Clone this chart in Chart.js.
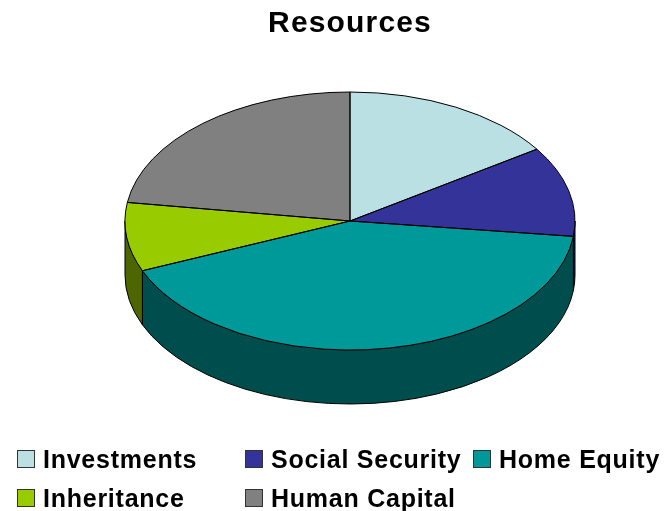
<!DOCTYPE html>
<html>
<head>
<meta charset="utf-8">
<title>Resources</title>
<script src="https://cdn.jsdelivr.net/npm/chart.js@4"></script>
<style>
  html, body { margin: 0; padding: 0; background: #fff; }
  #wrap { position: relative; width: 667px; height: 511px; overflow: hidden; }
  #pie { display: block; }
  .key {
    position: absolute;
    display: flex;
    align-items: center;
    font: bold 25px "Liberation Sans", Arial, sans-serif;
    letter-spacing: 0.75px;
    color: #000;
    white-space: nowrap;
    line-height: 30px;
  }
  .key i {
    display: block;
    box-sizing: border-box;
    width: 18px;
    height: 18px;
    margin-right: 8px;
    border: 1px solid #333;
  }
</style>
</head>
<body>
<div id="wrap">
  <canvas id="pie" width="667" height="511"></canvas>
</div>
<script>
const categories = ["Investments", "Social Security", "Home Equity", "Inheritance", "Human Capital"];
const shares = [15.6, 11.3, 41.8, 8.6, 22.7];
const topColors = ["#BBE0E3", "#333399", "#009999", "#99CC00", "#808080"];
const sideColors = ["#5E7072", "#1A1A4D", "#004D4D", "#4D6600", "#404040"];

// Ellipse of the top face and height of the rim, in pixels
const centerY = 221;
const radiusY = 129;
const rimDepth = 54;

const keyColumns = [17, 245, 473];
const keyRows = [444, 483];

// Squash the round pie into the tilted top face
function applyTilt(ctx, arc) {
  ctx.translate(arc.x, centerY);
  ctx.scale(1, radiusY / arc.outerRadius);
  ctx.translate(-arc.x, -arc.y);
}

// Outer wall of one slice, only the part facing the viewer
function drawRim(ctx, arc, color) {
  const from = Math.max(arc.startAngle, 0);
  const to = Math.min(arc.endAngle, Math.PI);
  if (from >= to) return;

  const r = arc.outerRadius;
  ctx.beginPath();
  ctx.ellipse(arc.x, centerY, r, radiusY, 0, from, to);
  ctx.ellipse(arc.x, centerY + rimDepth, r, radiusY, 0, to, from, true);
  ctx.closePath();
  ctx.fillStyle = color;
  ctx.fill();
  ctx.stroke();
}

const tiltedPie = {
  id: "tiltedPie",
  beforeDraw(chart) {
    chart.ctx.letterSpacing = "1.15px";
  },
  beforeDatasetsDraw(chart) {
    const ctx = chart.ctx;
    ctx.letterSpacing = "0px";
    ctx.save();
    ctx.lineWidth = 1;
    ctx.strokeStyle = "#000";
    chart.getDatasetMeta(0).data.forEach((arc, i) => drawRim(ctx, arc, sideColors[i]));
    ctx.restore();
  },
  beforeDatasetDraw(chart) {
    chart.ctx.save();
    applyTilt(chart.ctx, chart.getDatasetMeta(0).data[0]);
  },
  afterDatasetDraw(chart) {
    const ctx = chart.ctx;
    ctx.restore();

    // Outlines go on after the transform so the line keeps an even width
    ctx.save();
    ctx.lineWidth = 1;
    ctx.strokeStyle = "#000";
    chart.getDatasetMeta(0).data.forEach((arc) => {
      ctx.save();
      applyTilt(ctx, arc);
      ctx.beginPath();
      ctx.moveTo(arc.x, arc.y);
      ctx.arc(arc.x, arc.y, arc.outerRadius, arc.startAngle, arc.endAngle);
      ctx.closePath();
      ctx.restore();
      ctx.stroke();
    });
    ctx.restore();
  },
};

new Chart(document.getElementById("pie"), {
  type: "pie",
  data: {
    labels: categories,
    datasets: [
      {
        data: shares,
        backgroundColor: topColors,
        borderWidth: 0,
        clip: false,
      },
    ],
  },
  options: {
    responsive: false,
    animation: false,
    layout: { padding: { left: 125, right: 92, top: 0, bottom: 0 } },
    plugins: {
      legend: { display: false },
      tooltip: { enabled: false },
      title: {
        display: true,
        text: "Resources",
        color: "#000",
        font: { family: '"Liberation Sans", Arial, sans-serif', size: 30, weight: "bold" },
        padding: { top: 6, bottom: 6 },
      },
    },
  },
  plugins: [tiltedPie],
});

// Legend keeps its items in fixed columns
const wrap = document.getElementById("wrap");
categories.forEach((name, i) => {
  const key = document.createElement("div");
  key.className = "key";
  key.style.left = keyColumns[i % 3] + "px";
  key.style.top = keyRows[Math.floor(i / 3)] + "px";
  const swatch = document.createElement("i");
  swatch.style.background = topColors[i];
  key.append(swatch, name);
  wrap.append(key);
});
</script>
</body>
</html>
